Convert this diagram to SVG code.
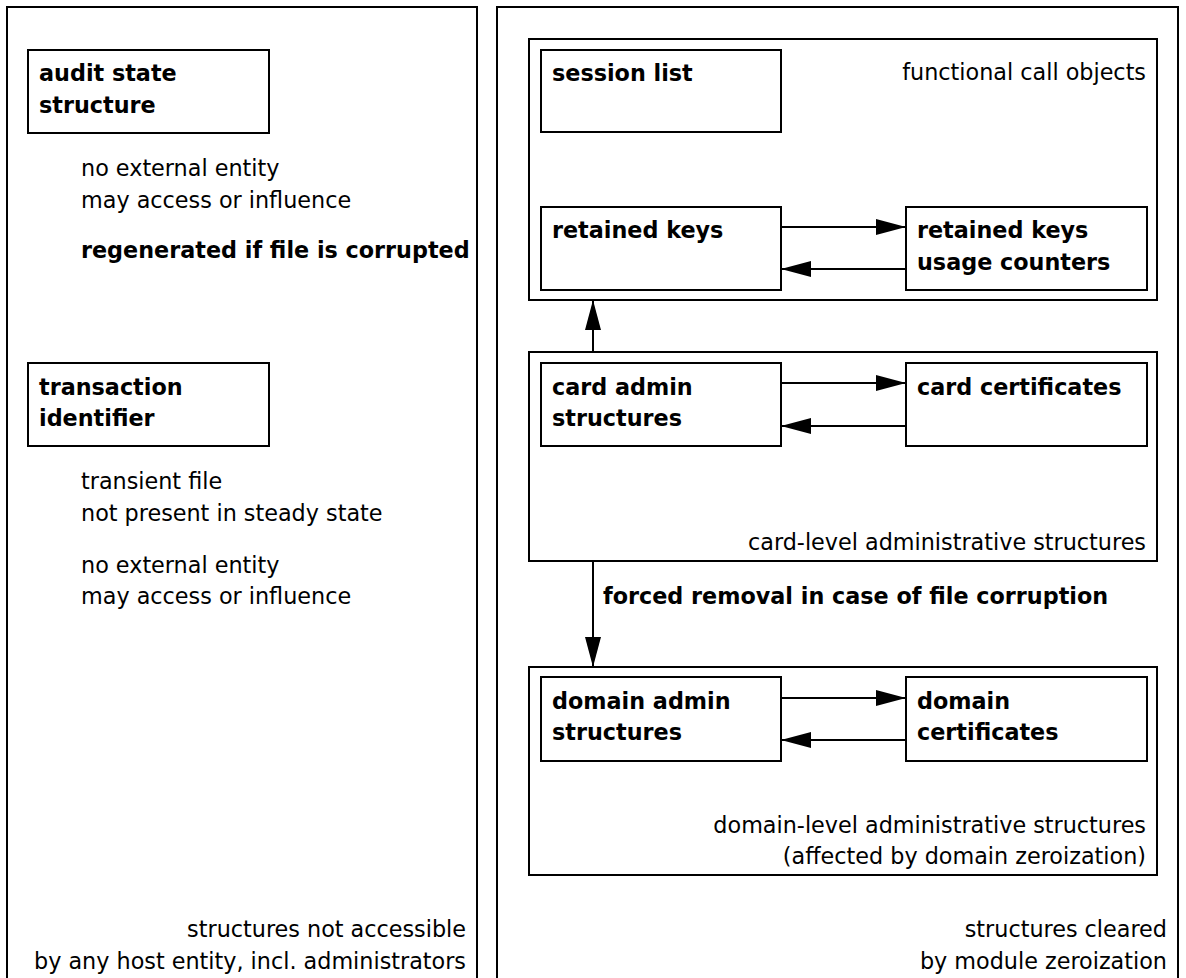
<svg xmlns="http://www.w3.org/2000/svg" width="1186" height="978" viewBox="0 0 1186 978">
  <style>
    .frame { fill: #fff; stroke: #000; stroke-width: 2; }
    .box { fill: #fff; stroke: #000; stroke-width: 2; }
    .edge { fill: none; stroke: #000; stroke-width: 2; }
    text { font-family: "DejaVu Sans", "Liberation Sans", sans-serif; font-size: 22.3px; fill: #000; }
    .b { font-weight: bold; }
    .r { text-anchor: end; }
  </style>
  <defs>
    <marker id="arrow" markerUnits="userSpaceOnUse" markerWidth="32" markerHeight="18" refX="30" refY="8" orient="auto">
      <path d="M0,0 L30,8 L0,16 z" fill="#000"/>
    </marker>
  </defs>
  <rect width="1186" height="978" fill="#fff"/>

  <!-- left column: protected structures -->
  <g id="protected-area">
    <rect class="frame" x="7" y="7" width="470" height="1000"/>
    <text class="r" x="466" y="937">structures not accessible</text>
    <text class="r" x="466" y="969">by any host entity, incl. administrators</text>
  </g>
  <g id="audit-state">
    <rect class="box" x="28" y="50" width="241" height="83"/>
    <text class="b" x="39" y="81">audit state</text>
    <text class="b" x="39" y="113">structure</text>
  </g>
  <g id="audit-notes">
    <text x="81" y="176">no external entity</text>
    <text x="81" y="208">may access or influence</text>
    <text class="b" x="81" y="258">regenerated if file is corrupted</text>
  </g>
  <g id="transaction-id">
    <rect class="box" x="28" y="363" width="241" height="83"/>
    <text class="b" x="39" y="395">transaction</text>
    <text class="b" x="39" y="426">identifier</text>
  </g>
  <g id="transaction-notes">
    <text x="81" y="489">transient file</text>
    <text x="81" y="521">not present in steady state</text>
    <text x="81" y="573">no external entity</text>
    <text x="81" y="604">may access or influence</text>
  </g>

  <!-- right column: zeroizable structures -->
  <g id="zeroized-area">
    <rect class="frame" x="497" y="7" width="681" height="1000"/>
    <text class="r" x="1167" y="937">structures cleared</text>
    <text class="r" x="1167" y="969">by module zeroization</text>
  </g>

  <g id="functional-call-objects">
    <rect class="box" x="529" y="39" width="628" height="261"/>
    <text class="r" x="1146" y="80">functional call objects</text>
  </g>
  <g id="session-list">
    <rect class="box" x="541" y="50" width="240" height="82"/>
    <text class="b" x="552" y="81">session list</text>
  </g>
  <g id="retained-keys">
    <rect class="box" x="541" y="207" width="240" height="83"/>
    <text class="b" x="552" y="238">retained keys</text>
  </g>
  <g id="retained-keys-counters">
    <rect class="box" x="906" y="207" width="241" height="83"/>
    <text class="b" x="917" y="238">retained keys</text>
    <text class="b" x="917" y="270">usage counters</text>
  </g>

  <g id="card-level">
    <rect class="box" x="529" y="352" width="628" height="209"/>
    <text class="r" x="1146" y="550">card-level administrative structures</text>
  </g>
  <g id="card-admin">
    <rect class="box" x="541" y="363" width="240" height="83"/>
    <text class="b" x="552" y="395">card admin</text>
    <text class="b" x="552" y="426">structures</text>
  </g>
  <g id="card-certificates">
    <rect class="box" x="906" y="363" width="241" height="83"/>
    <text class="b" x="917" y="395">card certificates</text>
  </g>

  <g id="domain-level">
    <rect class="box" x="529" y="667" width="628" height="208"/>
    <text class="r" x="1146" y="833">domain-level administrative structures</text>
    <text class="r" x="1146" y="864">(affected by domain zeroization)</text>
  </g>
  <g id="domain-admin">
    <rect class="box" x="541" y="677" width="240" height="84"/>
    <text class="b" x="552" y="709">domain admin</text>
    <text class="b" x="552" y="740">structures</text>
  </g>
  <g id="domain-certificates">
    <rect class="box" x="906" y="677" width="241" height="84"/>
    <text class="b" x="917" y="709">domain</text>
    <text class="b" x="917" y="740">certificates</text>
  </g>

  <!-- connectors -->
  <g id="connectors">
    <line class="edge" x1="781" y1="227" x2="906" y2="227" marker-end="url(#arrow)"/>
    <line class="edge" x1="906" y1="269" x2="781" y2="269" marker-end="url(#arrow)"/>
    <line class="edge" x1="781" y1="383" x2="906" y2="383" marker-end="url(#arrow)"/>
    <line class="edge" x1="906" y1="426" x2="781" y2="426" marker-end="url(#arrow)"/>
    <line class="edge" x1="781" y1="698" x2="906" y2="698" marker-end="url(#arrow)"/>
    <line class="edge" x1="906" y1="740" x2="781" y2="740" marker-end="url(#arrow)"/>
    <line class="edge" x1="593" y1="352" x2="593" y2="300" marker-end="url(#arrow)"/>
    <line class="edge" x1="593" y1="561" x2="593" y2="667" marker-end="url(#arrow)"/>
    <text class="b" x="603" y="604">forced removal in case of file corruption</text>
  </g>
</svg>
